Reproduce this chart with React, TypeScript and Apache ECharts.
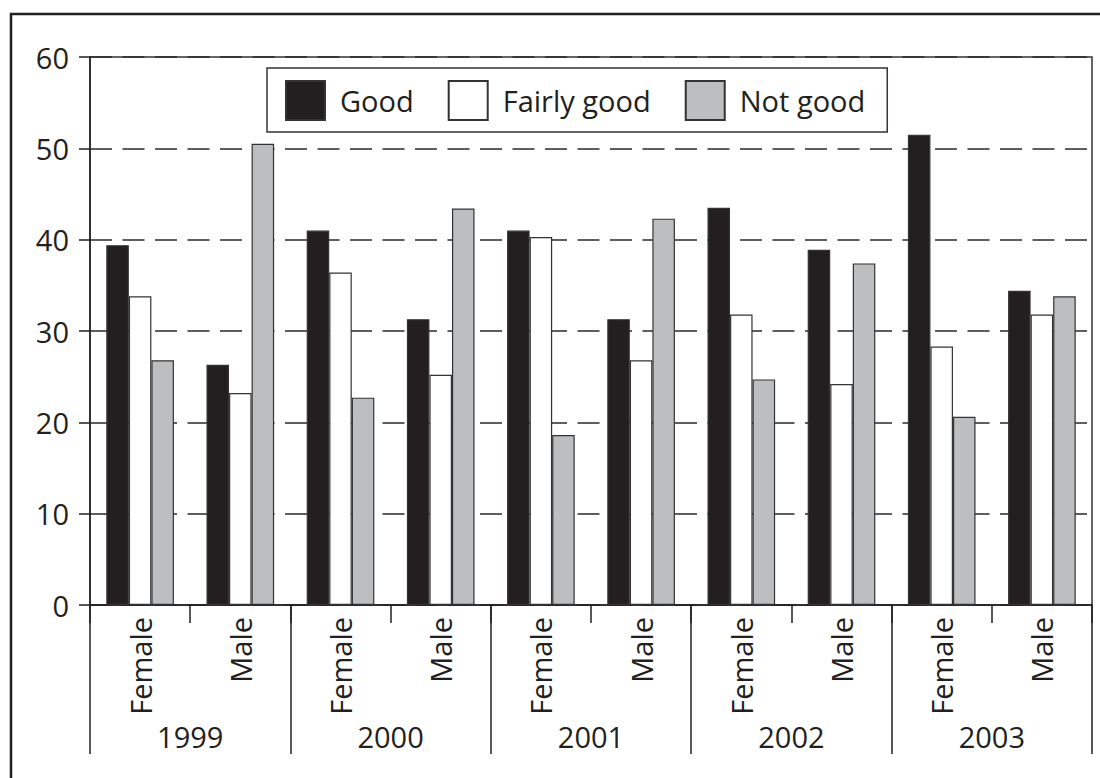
import React, { useEffect, useRef } from "react";
import * as echarts from "echarts";

const categories = ["Female", "Male", "Female", "Male", "Female", "Male", "Female", "Male", "Female", "Male"];
const years = ["1999", "2000", "2001", "2002", "2003"];
const seriesNames = ["Good", "Fairly good", "Not good"];
const good = [39.4, 26.3, 41.0, 31.3, 41.0, 31.3, 43.5, 38.9, 51.5, 34.4];
const fairlyGood = [33.8, 23.2, 36.4, 25.2, 40.3, 26.8, 31.8, 24.2, 28.3, 31.8];
const notGood = [26.8, 50.5, 22.7, 43.4, 18.6, 42.3, 24.7, 37.4, 20.6, 33.8];
const yMin = 0;
const yMax = 60;
const yInterval = 10;

const INK = "#231f20";
const FONT = "'Open Sans', 'Noto Sans', sans-serif";

export default function App() {
  const ref = useRef<HTMLDivElement>(null);

  useEffect(() => {
    if (!ref.current) return;
    const chart = echarts.init(ref.current, undefined, { renderer: "svg" });
    const colors = ["#231f20", "#ffffff", "#bcbec0"];
    const values = [good, fairlyGood, notGood];
    chart.setOption({
      animation: false,
      backgroundColor: "#ffffff",
      textStyle: { fontFamily: FONT },
      graphic: [
        {
          type: "rect",
          silent: true,
          shape: { x: 11, y: 14, width: 1300, height: 1000 },
          style: { fill: "none", stroke: INK, lineWidth: 2.5 },
          z: 0,
        },
      ],
      grid: {
        left: 90,
        right: 8,
        top: 57,
        bottom: 173,
        show: true,
        borderColor: "#333",
        borderWidth: 1.5,
        backgroundColor: "transparent",
      },
      legend: {
        left: 267,
        top: 68,
        orient: "horizontal",
        icon: "rect",
        itemWidth: 39,
        itemHeight: 39,
        itemGap: 34,
        padding: [12, 22, 11, 18],
        backgroundColor: "#ffffff",
        borderColor: "#333",
        borderWidth: 1.5,
        textStyle: { fontSize: 29, color: INK, fontFamily: FONT, fontWeight: 400, padding: [0, 0, 0, 10] },
        data: seriesNames,
      },
      xAxis: [
        {
          type: "category",
          data: categories,
          position: "bottom",
          boundaryGap: true,
          axisLine: { show: true, lineStyle: { color: INK, width: 1.5 } },
          axisTick: { show: true, length: 18, lineStyle: { color: INK, width: 1.5 } },
          axisLabel: {
            rotate: 90,
            margin: 12,
            fontSize: 29,
            color: INK,
            fontFamily: FONT,
            fontWeight: 400,
            interval: 0,
            padding: [0, 0, 16, 0],
          },
          splitLine: { show: false },
        },
        {
          type: "category",
          data: years,
          position: "bottom",
          boundaryGap: true,
          axisLine: { show: false },
          axisTick: { show: true, length: 149, lineStyle: { color: INK, width: 1.5 } },
          axisLabel: { margin: 117, fontSize: 29, color: INK, fontFamily: FONT, fontWeight: 400, interval: 0 },
          splitLine: { show: false },
        },
      ],
      yAxis: {
        type: "value",
        min: yMin,
        max: yMax,
        interval: yInterval,
        axisLine: { show: true, lineStyle: { color: INK, width: 1.5 } },
        axisTick: { show: true, length: 11, lineStyle: { color: INK, width: 1.5 } },
        axisLabel: { margin: 21, fontSize: 29, color: INK, fontFamily: FONT, fontWeight: 400 },
        splitLine: {
          show: true,
          lineStyle: { color: "#2a2a2a", width: 1.5, type: [22, 10.5] },
        },
      },
      series: seriesNames.map((name, i) => ({
        name,
        type: "bar",
        xAxisIndex: 0,
        data: values[i],
        barWidth: "22.5%",
        barGap: "0%",
        itemStyle: { color: colors[i], borderColor: "#333", borderWidth: 1.2 },
        emphasis: { disabled: true },
      })),
    });
    return () => chart.dispose();
  }, []);

  return (
    <div
      ref={ref}
      style={{ position: "fixed", left: 0, top: 0, width: 1100, height: 778, background: "#fff" }}
    />
  );
}
